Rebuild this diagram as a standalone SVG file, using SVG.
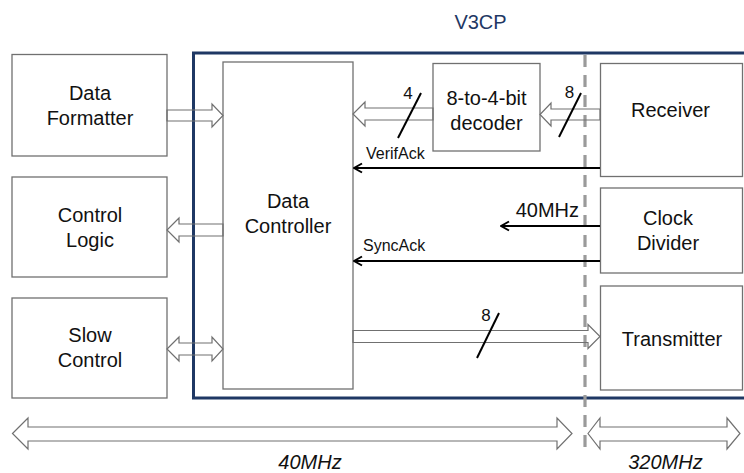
<svg xmlns="http://www.w3.org/2000/svg" width="744" height="473" viewBox="0 0 744 473">
<style>
.box{fill:#fff;stroke:#707070;stroke-width:1.3}
.blk{fill:none;stroke:#707070;stroke-width:1.2;stroke-linejoin:miter}
.t{font-family:"Liberation Sans",Arial,sans-serif;font-size:20px;fill:#111;text-anchor:middle}
.s{font-family:"Liberation Sans",Arial,sans-serif;font-size:16px;fill:#111}
.n{font-family:"Liberation Sans",Arial,sans-serif;font-size:17px;fill:#111;text-anchor:middle}
.i{font-family:"Liberation Sans",Arial,sans-serif;font-size:20px;font-style:italic;fill:#111;text-anchor:middle}
.sig{stroke:#000;stroke-width:2;fill:none}
.sl{stroke:#000;stroke-width:2}
</style>
<defs>
<marker id="ah" markerUnits="userSpaceOnUse" markerWidth="12" markerHeight="12" viewBox="0 0 12 12" refX="11" refY="6" orient="auto">
<path d="M3,1.500 L11,6 L3,10.500" fill="none" stroke="#000" stroke-width="2"/>
</marker>
</defs>
<rect width="744" height="473" fill="#fff"/>
<text x="480.500" y="29" class="t" style="fill:#1F3864">V3CP</text>

<rect id="v3cp" x="193.500" y="53" width="560" height="345" fill="none" stroke="#1F3864" stroke-width="3"/>
<line x1="585" y1="55" x2="585" y2="448" stroke="#9a9a9a" stroke-width="3.200" stroke-dasharray="12 8"/>

<g id="data-formatter">
<rect class="box" x="12" y="54.500" width="155" height="101.500"/>
<text x="90" y="100" class="t">Data</text>
<text x="90" y="125" class="t">Formatter</text>
</g>
<g id="control-logic">
<rect class="box" x="12" y="177" width="155" height="100"/>
<text x="90" y="222" class="t">Control</text>
<text x="90" y="247" class="t">Logic</text>
</g>
<g id="slow-control">
<rect class="box" x="12" y="298" width="155" height="100"/>
<text x="90" y="342" class="t">Slow</text>
<text x="90" y="367" class="t">Control</text>
</g>
<g id="data-controller">
<rect class="box" x="223" y="62" width="130" height="327"/>
<text x="288" y="208" class="t">Data</text>
<text x="288" y="233" class="t">Controller</text>
</g>
<g id="decoder">
<rect class="box" x="433" y="63.500" width="107" height="87.500"/>
<text x="486.500" y="105" class="t">8-to-4-bit</text>
<text x="486.500" y="130" class="t">decoder</text>
</g>
<g id="receiver">
<rect class="box" x="600.500" y="63.500" width="142" height="113"/>
<text x="670.500" y="117" class="t">Receiver</text>
</g>
<g id="clock-divider">
<rect class="box" x="600.500" y="188" width="142" height="85"/>
<text x="668" y="225" class="t">Clock</text>
<text x="668" y="250" class="t">Divider</text>
</g>
<g id="transmitter">
<rect class="box" x="600.500" y="286" width="142" height="104"/>
<text x="672" y="346" class="t">Transmitter</text>
</g>

<g id="connectors">
<polygon class="blk" points="167,110 212,110 212,104 223,115.500 212,127 212,121 167,121"/>
<polygon class="blk" points="433,108 365,108 365,102 353,114 365,126 365,120 433,120"/>
<polygon class="blk" points="600,109 551,109 551,103 540,114.500 551,126 551,120 600,120"/>
<polygon class="blk" points="223,224 179,224 179,218 167,230 179,242 179,236 223,236"/>
<polygon class="blk" points="167,349 179,337 179,343 212,343 212,337 223,349 212,361 212,355 179,355 179,361"/>
<polygon class="blk" points="353,330.500 588,330.500 588,324.500 600,336.500 588,348.500 588,342.500 353,342.500"/>
<polygon class="blk" points="12.500,433.500 28,418 28,427 557,427 557,418 572,433.500 557,449 557,441 28,441 28,449"/>
<polygon class="blk" points="588,433.500 600,418 600,427 727,427 727,418 740,433.500 727,449 727,441 600,441 600,449"/>
<line class="sig" x1="600" y1="168" x2="354" y2="168" marker-end="url(#ah)"/>
<line class="sig" x1="600" y1="226" x2="501" y2="226" marker-end="url(#ah)"/>
<line class="sig" x1="600" y1="261" x2="354" y2="261" marker-end="url(#ah)"/>
<line class="sl" x1="398" y1="138" x2="421" y2="93"/>
<line class="sl" x1="559" y1="137" x2="581" y2="93"/>
<line class="sl" x1="477" y1="358" x2="499" y2="313"/>
<text x="408" y="99" class="n">4</text>
<text x="569.500" y="98" class="n">8</text>
<text x="486" y="321" class="n">8</text>
<text x="366" y="159" class="s">VerifAck</text>
<text x="579" y="217" class="t" style="text-anchor:end">40MHz</text>
<text x="363" y="251" class="s">SyncAck</text>
</g>

<text x="310" y="469" class="i">40MHz</text>
<text x="665.500" y="469" class="i">320MHz</text>
</svg>
